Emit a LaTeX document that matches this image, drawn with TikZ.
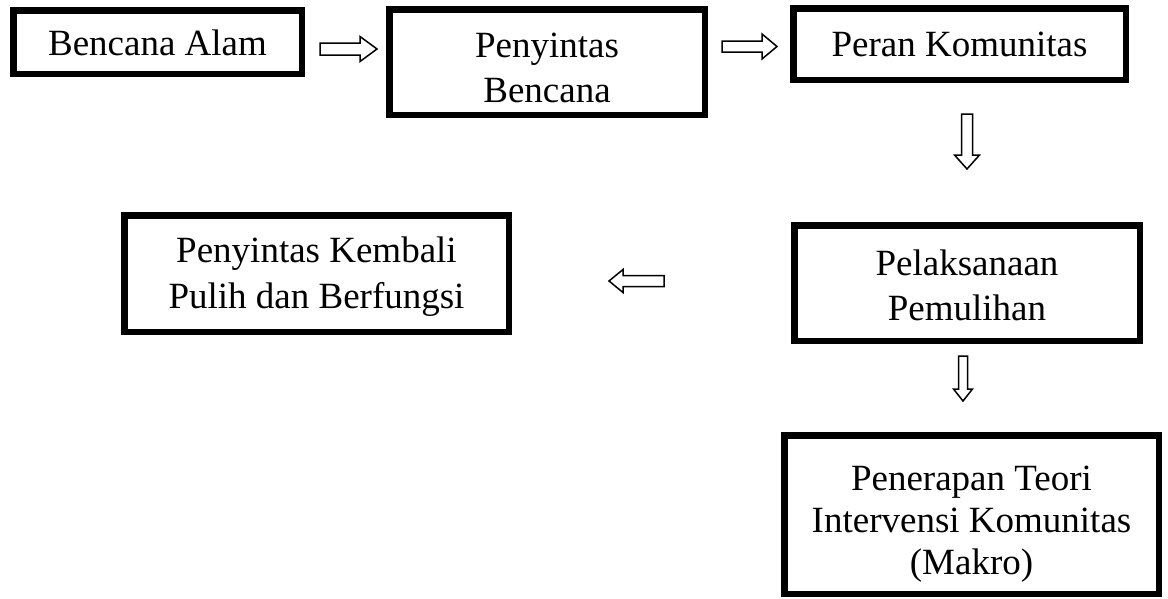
\documentclass[tikz,border=0pt]{standalone}
\usepackage{fontspec}
\setmainfont{Liberation Serif}
\begin{document}
\begin{tikzpicture}[x=1pt,y=-1pt,
  box/.style={draw=black, line width=6.5pt, inner sep=0pt},
  boxtext/.style={inner sep=0pt, align=center},
  fonttwo/.style={font=\fontsize{37}{45}\selectfont},
  fontthree/.style={font=\fontsize{37}{42}\selectfont},
  blockarrow/.style={draw=black, line width=1.5pt, fill=white, line join=miter}]
\useasboundingbox (0,0) rectangle (1168,598);
% boxes
\node[box, minimum width=288.5pt, minimum height=63.5pt] (b1) at (157.5,42) {};
\node[boxtext, fonttwo, yshift=-1pt] (t1) at (b1) {Bencana Alam};
\node[box, minimum width=315.5pt, minimum height=105.5pt] (b2) at (547,62) {};
\node[boxtext, fonttwo, yshift=-5.5pt] (t2) at (b2) {Penyintas\\Bencana};
\node[box, minimum width=332.5pt, minimum height=71.5pt] (b3) at (959.5,44) {};
\node[boxtext, fonttwo] (t3) at (b3) {Peran Komunitas};
\node[box, minimum width=345.5pt, minimum height=115.5pt] (b5) at (967,283) {};
\node[boxtext, fonttwo, yshift=-2.5pt] (t5) at (b5) {Pelaksanaan\\Pemulihan};
\node[box, minimum width=374.5pt, minimum height=158.5pt] (b6) at (971.5,514.5) {};
\node[boxtext, fontthree, yshift=-10pt] (t6) at (b6) {Penerapan Teori\\Intervensi Komunitas\\(Makro)};
\node[box, minimum width=384.5pt, minimum height=116.5pt] (b4) at (316.5,273.5) {};
\node[boxtext, font=\fontsize{37}{46}\selectfont, yshift=-3.5pt] (t4) at (b4) {Penyintas Kembali\\Pulih dan Berfungsi};
% block arrows
\draw[blockarrow] (320,43) -- (360,43) -- (360,36.5) -- (377,49) -- (360,61.5) -- (360,55) -- (320,55) -- cycle;
\draw[blockarrow] (722,41) -- (762,41) -- (762,34) -- (777,46.5) -- (762,59) -- (762,52) -- (722,52) -- cycle;
\draw[blockarrow] (961.5,114) -- (972.5,114) -- (972.5,155) -- (979.5,155) -- (967,169) -- (954.5,155) -- (961.5,155) -- cycle;
\draw[blockarrow] (664,275.5) -- (623,275.5) -- (623,269.5) -- (609,281) -- (623,292.5) -- (623,286.5) -- (664,286.5) -- cycle;
\draw[blockarrow] (958.5,356) -- (967.5,356) -- (967.5,389) -- (972.5,389) -- (963,401) -- (953.5,389) -- (958.5,389) -- cycle;
\end{tikzpicture}
\end{document}
